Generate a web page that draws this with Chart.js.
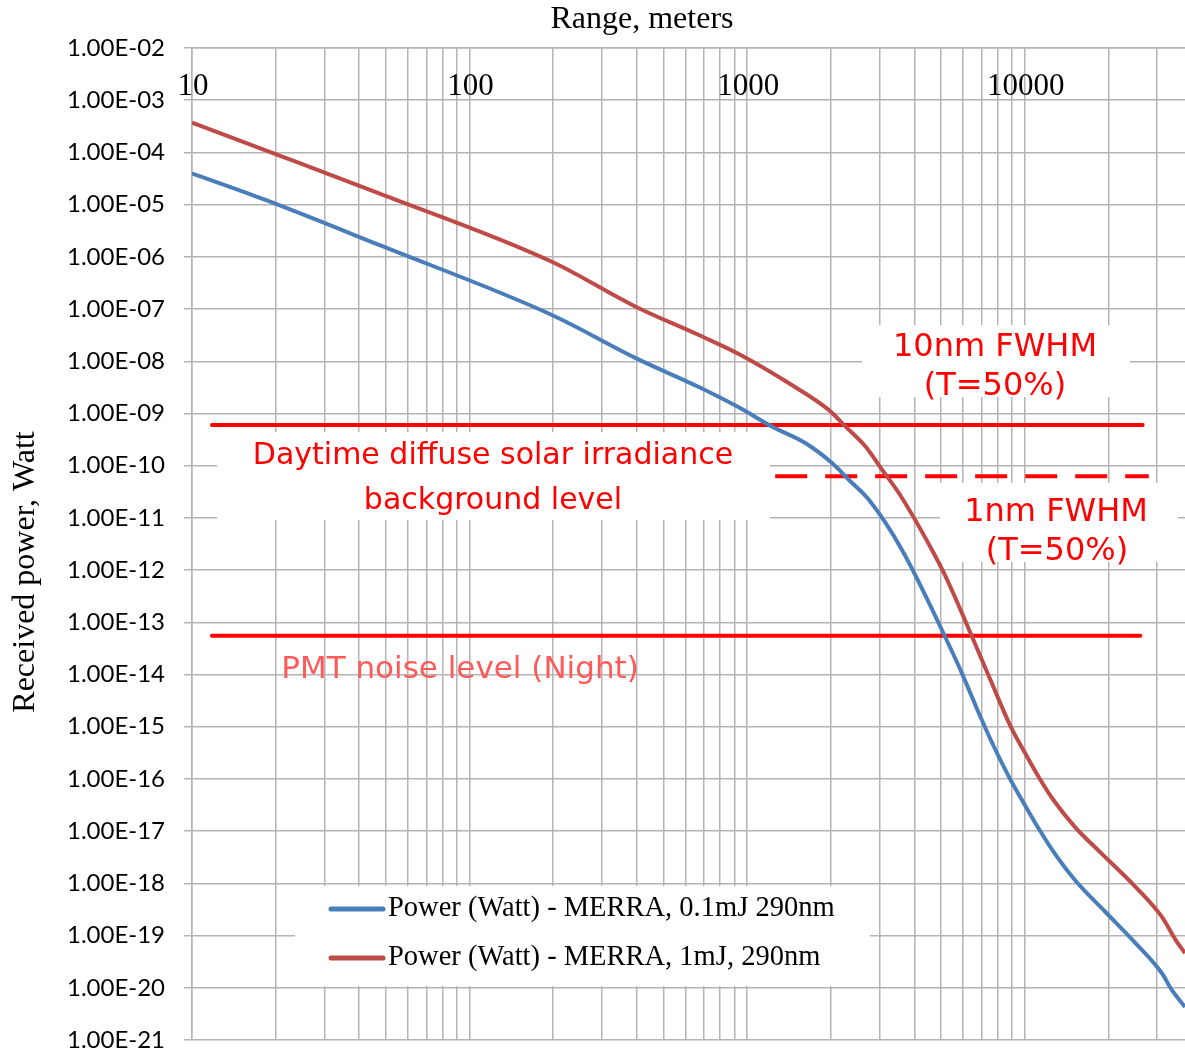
<!DOCTYPE html>
<html>
<head>
<meta charset="utf-8">
<script src="https://cdn.jsdelivr.net/npm/chart.js@4.4.1/dist/chart.umd.min.js"></script>
<style>
  html, body { margin: 0; padding: 0; background: #fff; }
  #wrap { width: 1185px; height: 1053px; }
</style>
</head>
<body>
<div id="wrap"><canvas id="myChart"></canvas></div>
<script>
// range (m) and received power (W)
const rangeLow = [10, 18.4, 47.2, 198, 397, 670, 933, 1231, 1625, 2027, 2329, 2750, 3614, 5483, 5957, 6937, 7742, 8893, 10070, 11240, 12910, 15240, 19540, 25060, 31170, 33880, 37800];
const powerLow = [3.98e-5, 1.23e-5, 1.69e-6, 7.7e-8, 1.15e-8, 3.21e-9, 1.31e-9, 5.58e-10, 2.69e-10, 1.11e-10, 5.32e-11, 2.2e-11, 2.43e-12, 2.7e-14, 1.02e-14, 1.52e-15, 4.18e-16, 9.6e-17, 3.01e-17, 1.11e-17, 3.54e-18, 1.12e-18, 2.83e-19, 7.2e-20, 1.92e-20, 9.1e-21, 4.3e-21];

// range (m) and received power (W)
const rangeHigh = [10, 20, 47.2, 198, 397, 670, 933, 1415, 1972, 2265, 2674, 3069, 3525, 4634, 5192, 7430, 8893, 10070, 11240, 12730, 15240, 18490, 25060, 31170, 35000, 37800];
const powerHigh = [3.71e-4, 9.3e-5, 1.65e-5, 8.07e-7, 1.11e-7, 3.18e-8, 1.38e-8, 3.79e-9, 1.16e-9, 5.58e-10, 2.31e-10, 8.26e-11, 2.96e-11, 2.43e-12, 7.5e-13, 9.25e-15, 1.02e-15, 3.02e-16, 1.08e-16, 3.86e-17, 1.17e-17, 4.19e-18, 8.6e-19, 2.3e-19, 8.2e-20, 4.6e-20];

// background levels (W) and the ranges their lines span
const daytimeRange = [11.8, 26600];
const daytimeLevel = [6.0e-10, 6.0e-10];
const narrowRange = [1262, 28000];
const narrowLevel = [6.3e-11, 6.3e-11];
const pmtRange = [11.8, 26100];
const pmtLevel = [5.5e-14, 5.5e-14];

const seriesNames = ["Power (Watt) - MERRA, 0.1mJ 290nm", "Power (Watt) - MERRA, 1mJ, 290nm"];
const rangeLabels = [10, 100, 1000, 10000];

const blue = "#4A7EBB";
const red = "#BE4B48";
const gridColor = "#b4b4b4";

function toPoints(xs, ys) {
  const pts = [];
  for (let i = 0; i < xs.length; i++) {
    pts.push({ x: xs[i], y: ys[i] });
  }
  return pts;
}

function sciLabel(v) {
  const e = Math.round(Math.log10(v));
  return "1.00E" + (e < 0 ? "-" : "+") + String(Math.abs(e)).padStart(2, "0");
}

// white text boxes, titles, annotations and legend
const overlay = {
  id: "overlay",
  beforeDatasetsDraw(chart) {
    const ctx = chart.ctx;
    ctx.save();
    ctx.fillStyle = "#fff";
    ctx.fillRect(217, 432, 553, 88);   // daytime label box
    ctx.fillRect(862, 325, 268, 72);   // 10nm box
    ctx.fillRect(940, 483, 238, 79);   // 1nm box
    ctx.fillRect(295, 886, 575, 100);  // legend box
    ctx.restore();
  },
  afterDatasetsDraw(chart) {
    const ctx = chart.ctx;
    const xs = chart.scales.x;
    ctx.save();
    ctx.textAlign = "center";
    ctx.textBaseline = "middle";

    // axis titles and range labels
    ctx.fillStyle = "#000";
    ctx.font = "32px 'Liberation Serif'";
    ctx.fillText("Range, meters", 642, 20);
    ctx.save();
    ctx.translate(26, 572);
    ctx.rotate(-Math.PI / 2);
    ctx.fillText("Received power, Watt", 0, 0);
    ctx.restore();
    ctx.font = "31px 'Liberation Serif'";
    rangeLabels.forEach(v => ctx.fillText(String(v), xs.getPixelForValue(v) + 1, 87));

    // annotations
    ctx.fillStyle = "#ff0000";
    ctx.font = "30px 'DejaVu Sans'";
    ctx.fillText("Daytime diffuse solar irradiance", 493, 456);
    ctx.fillText("background level", 493, 501);
    ctx.font = "32px 'DejaVu Sans'";
    ctx.fillText("10nm FWHM", 995, 348);
    ctx.fillText("(T=50%)", 995, 387);
    ctx.fillText("1nm FWHM", 1056, 513);
    ctx.fillText("(T=50%)", 1057, 552);
    ctx.fillStyle = "#ff5a5a";
    ctx.font = "31px 'DejaVu Sans'";
    ctx.fillText("PMT noise level (Night)", 460, 670);

    // legend
    ctx.textAlign = "left";
    ctx.font = "28.5px 'Liberation Serif'";
    ctx.lineWidth = 5;
    ctx.lineCap = "round";
    [blue, red].forEach((c, i) => {
      const y = 909 + i * 49;
      ctx.strokeStyle = c;
      ctx.beginPath();
      ctx.moveTo(331, y);
      ctx.lineTo(383, y);
      ctx.stroke();
      ctx.fillStyle = "#000";
      ctx.fillText(seriesNames[i], 388, y);
    });
    ctx.restore();
  }
};

function renderChart() {
  const ctx = document.getElementById("myChart");

  new Chart(ctx, {
    type: "line",
    data: {
      datasets: [
        {
          label: seriesNames[0],
          data: toPoints(rangeLow, powerLow),
          borderColor: blue,
          borderWidth: 4,
          pointRadius: 0,
          cubicInterpolationMode: "monotone",
        },
        {
          label: seriesNames[1],
          data: toPoints(rangeHigh, powerHigh),
          borderColor: red,
          borderWidth: 4,
          pointRadius: 0,
          cubicInterpolationMode: "monotone",
        },
        {
          label: "daytime",
          data: toPoints(daytimeRange, daytimeLevel),
          borderColor: "#ff0000",
          borderWidth: 4,
          borderCapStyle: "round",
          pointRadius: 0,
        },
        {
          label: "1nm",
          data: toPoints(narrowRange, narrowLevel),
          borderColor: "#ff0000",
          borderWidth: 4,
          borderDash: [32, 18],
          pointRadius: 0,
        },
        {
          label: "pmt",
          data: toPoints(pmtRange, pmtLevel),
          borderColor: "#ff0000",
          borderWidth: 4,
          borderCapStyle: "round",
          pointRadius: 0,
        },
      ],
    },
    options: {
      responsive: true,
      maintainAspectRatio: false,
      animation: false,
      layout: { padding: { left: 0, right: 0, top: 0, bottom: 13 } },
      plugins: {
        legend: { display: false },
        tooltip: { enabled: false },
      },
      scales: {
        x: {
          type: "logarithmic",
          position: "top",
          min: 10,
          max: 37800,
          afterBuildTicks: (scale) => {
            const ticks = [];
            for (let d = 1; d <= 4; d++) {
              for (let m = 1; m <= 9; m++) {
                const v = m * Math.pow(10, d);
                if (v <= 37800) ticks.push({ value: v });
              }
            }
            scale.ticks = ticks;
          },
          afterFit: (scale) => {
            scale.height = 48;
            scale.paddingLeft = 0;
            scale.paddingRight = 0;
          },
          ticks: { display: false },
          grid: { color: gridColor, lineWidth: 1.5, drawTicks: false },
          border: { color: gridColor, width: 1.5 },
        },
        y: {
          type: "logarithmic",
          min: 1e-21,
          max: 1e-2,
          afterBuildTicks: (scale) => {
            const ticks = [];
            for (let e = -21; e <= -2; e++) ticks.push({ value: Math.pow(10, e) });
            scale.ticks = ticks;
          },
          afterFit: (scale) => {
            scale.width = 192;
            scale.paddingTop = 0;
            scale.paddingBottom = 0;
          },
          ticks: {
            callback: (v) => sciLabel(v),
            color: "#000",
            padding: 19,
            font: { family: "Lato", size: 24 },
          },
          grid: { color: gridColor, lineWidth: 1.5, tickLength: 8 },
          border: { color: gridColor, width: 1.5 },
        },
      },
    },
    plugins: [overlay],
  });
}

renderChart();
</script>
</body>
</html>
